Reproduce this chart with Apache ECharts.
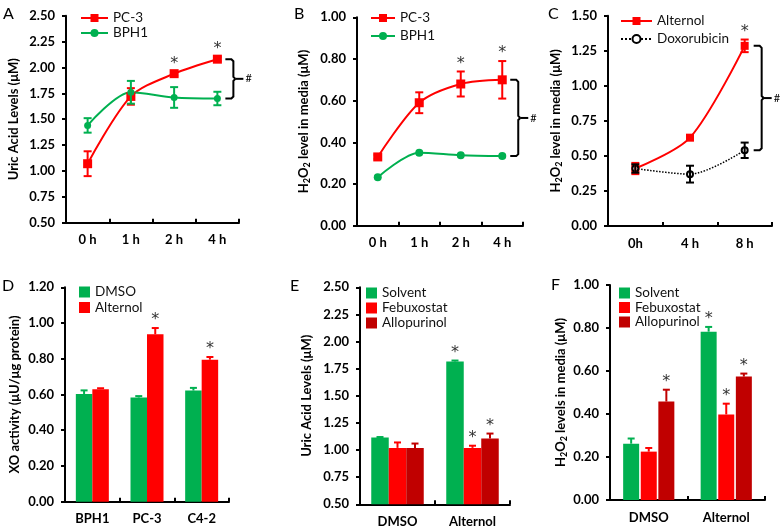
<!DOCTYPE html>
<html><head><meta charset="utf-8">
<script src="https://cdn.jsdelivr.net/npm/echarts@6/dist/echarts.min.js"></script>
<style>html,body{margin:0;padding:0;background:#fff}#c{width:780px;height:530px}</style>
</head><body><div id="c"></div><script>
// ---------------- DATA ----------------
// Panel A
const catsA = ['0 h', '1 h', '2 h', '4 h'];
const ticksA = [0.50, 0.75, 1.00, 1.25, 1.50, 1.75, 2.00, 2.25, 2.50];
const pc3A = [1.07, 1.72, 1.94, 2.08];
const pc3AErr = [0.12, 0.08, 0.02, 0.02];
const pc3ASig = [0, 0, 1, 1];
const bph1A = [1.44, 1.76, 1.71, 1.70];
const bph1AErr = [0.07, 0.11, 0.10, 0.065];
// Panel B
const catsB = ['0 h', '1 h', '2 h', '4 h'];
const ticksB = [0.00, 0.20, 0.40, 0.60, 0.80, 1.00];
const pc3B = [0.33, 0.59, 0.68, 0.70];
const pc3BErr = [0.01, 0.05, 0.06, 0.09];
const pc3BSig = [0, 0, 1, 1];
const bph1B = [0.232, 0.35, 0.338, 0.334];
const bph1BErr = [0.006, 0.008, 0.006, 0.006];
// Panel C
const catsC = ['0h', '4 h', '8 h'];
const ticksC = [0.00, 0.25, 0.50, 0.75, 1.00, 1.25, 1.50];
const altC = [0.41, 0.63, 1.285];
const altCErr = [0.04, 0.01, 0.045];
const altCSig = [0, 0, 1];
const doxC = [0.41, 0.37, 0.54];
const doxCErr = [0.03, 0.06, 0.055];
// Panel D
const catsD = ['BPH1', 'PC-3', 'C4-2'];
const ticksD = [0.00, 0.20, 0.40, 0.60, 0.80, 1.00, 1.20];
const dmsoD = [0.603, 0.583, 0.622];
const dmsoDErr = [0.02, 0.008, 0.015];
const altD = [0.63, 0.937, 0.795];
const altDErr = [0.005, 0.035, 0.015];
const altDSig = [0, 1, 1];
// Panel E
const catsE = ['DMSO', 'Alternol'];
const ticksE = [0.50, 0.75, 1.00, 1.25, 1.50, 1.75, 2.00, 2.25, 2.50];
const solvE = [1.115, 1.815];
const solvEErr = [0.005, 0.01];
const solvESig = [0, 1];
const febE = [1.02, 1.02];
const febEErr = [0.05, 0.02];
const febESig = [0, 1];
const alloE = [1.02, 1.107];
const alloEErr = [0.04, 0.045];
const alloESig = [0, 1];
// Panel F
const catsF = ['DMSO', 'Alternol'];
const ticksF = [0.00, 0.20, 0.40, 0.60, 0.80, 1.00];
const solvF = [0.262, 0.783];
const solvFErr = [0.024, 0.022];
const solvFSig = [0, 1];
const febF = [0.225, 0.398];
const febFErr = [0.017, 0.05];
const febFSig = [0, 1];
const alloF = [0.458, 0.574];
const alloFErr = [0.055, 0.014];
const alloFSig = [1, 1];

// ---------------- STYLE / HELPERS ----------------
const FONT = 'Lato, "Open Sans", sans-serif';
const GREEN = '#00b050', RED = '#ff0000', DARK = '#c00000';

const grids = [
  {left: 66, top: 15.7, width: 173, height: 207},
  {left: 357, top: 17.3, width: 166, height: 208.4},
  {left: 608, top: 15.7, width: 164, height: 210.3},
  {left: 65, top: 287.3, width: 164, height: 214.4},
  {left: 360, top: 287.3, width: 150, height: 217},
  {left: 610, top: 285, width: 155, height: 215}
].map(g => Object.assign({containLabel: false, outerBoundsMode: 'none'}, g));

const axisLineStyle = {show: true, lineStyle: {color: '#000', width: 2}};

function xAx(gi, cats) {
  return {
    type: 'category', gridIndex: gi, data: cats, boundaryGap: true,
    axisLine: axisLineStyle,
    axisTick: {show: true, inside: true, length: 4, lineStyle: {color: '#000', width: 2}},
    axisLabel: {color: '#000', fontWeight: 'bold', fontSize: 13, fontFamily: FONT, margin: 11},
    splitLine: {show: false}
  };
}
function yAx(gi, ticks, name, gap) {
  return {
    type: 'value', gridIndex: gi, min: ticks[0], max: ticks[ticks.length - 1],
    interval: +(ticks[1] - ticks[0]).toFixed(4),
    name: name, nameLocation: 'middle', nameGap: gap,
    nameTextStyle: {
      color: '#000', fontWeight: 'bold', fontSize: 13, fontFamily: FONT,
      rich: {s: {fontSize: 9, fontWeight: 'bold', fontFamily: FONT, color: '#000', padding: [7, 0, 0, 0]}}
    },
    axisLine: axisLineStyle,
    axisTick: {show: true, inside: false, length: 4, lineStyle: {color: '#000', width: 2}},
    axisLabel: {color: '#000', fontWeight: 'bold', fontSize: 13, fontFamily: FONT, margin: 11,
      formatter: v => v.toFixed(2)},
    splitLine: {show: false}
  };
}

function lineSeries(gi, name, data, color, symbol, size, extra) {
  return Object.assign({
    type: 'line', name: name, xAxisIndex: gi, yAxisIndex: gi, data: data,
    smooth: 0.3, symbol: symbol, symbolSize: size,
    lineStyle: {color: color, width: 2}, itemStyle: {color: color}, z: 3
  }, extra || {});
}
function barSeries(gi, name, data, color, bw, gap) {
  return {type: 'bar', name: name, xAxisIndex: gi, yAxisIndex: gi, data: data,
    barWidth: bw, barGap: gap, itemStyle: {color: color}, z: 2};
}

function errSeries(gi, means, errs, sigs, color, opts) {
  const data = means.map((m, i) => [i, opts.upper ? m : m - errs[i], m + errs[i], sigs ? sigs[i] : 0]);
  return {
    type: 'custom', xAxisIndex: gi, yAxisIndex: gi, data: data, z: 5, silent: true,
    encode: {x: 0, y: [1, 2]},
    renderItem: function (params, api) {
      const i = api.value(0);
      const lo = api.coord([i, api.value(1)]);
      const hi = api.coord([i, api.value(2)]);
      const x = lo[0] + (opts.dx || 0);
      const cw = opts.cap / 2;
      const st = {stroke: color, lineWidth: opts.lw || 2};
      const ch = [
        {type: 'line', shape: {x1: x, y1: lo[1], x2: x, y2: hi[1]}, style: st},
        {type: 'line', shape: {x1: x - cw, y1: hi[1], x2: x + cw, y2: hi[1]}, style: st}
      ];
      if (!opts.upper) ch.push({type: 'line', shape: {x1: x - cw, y1: lo[1], x2: x + cw, y2: lo[1]}, style: st});
      if (api.value(3)) ch.push({type: 'text', style: {text: '*', x: x, y: hi[1] - 8,
        align: 'center', verticalAlign: 'middle', fill: '#333', fontSize: 16, fontFamily: 'DejaVu Sans'}});
      return {type: 'group', children: ch};
    }
  };
}

function bracketSeries(gi, cat, top, bot, dx) {
  return {
    type: 'custom', xAxisIndex: gi, yAxisIndex: gi, data: [[cat, top, bot]], z: 5, silent: true,
    encode: {x: 0, y: [1, 2]},
    renderItem: function (params, api) {
      const a = api.coord([api.value(0), api.value(1)]);
      const b = api.coord([api.value(0), api.value(2)]);
      const x = a[0] + dx, y1 = a[1], y2 = b[1], ym = (y1 + y2) / 2;
      const st = {stroke: '#000', lineWidth: 2, fill: 'none'};
      return {type: 'group', children: [
        {type: 'polyline', shape: {points: [[x - 8, y1], [x - 2, y1], [x, y1 + 2], [x, ym - 2], [x + 2, ym]]}, style: st},
        {type: 'polyline', shape: {points: [[x - 8, y2], [x - 2, y2], [x, y2 - 2], [x, ym + 2], [x + 2, ym]]}, style: st},
        {type: 'line', shape: {x1: x + 2, y1: ym, x2: x + 10, y2: ym}, style: st},
        {type: 'text', style: {text: '#', x: x + 12, y: ym, align: 'left', verticalAlign: 'middle',
          fill: '#000', fontSize: 11, fontFamily: FONT}}
      ]};
    }
  };
}

function legend(left, top, names, gap, icon, iw, ih) {
  const l = {
    left: left, top: top, orient: 'vertical', padding: 0, itemGap: gap, itemWidth: iw, itemHeight: ih,
    data: names, selectedMode: false, formatter: n => n.split(':')[1],
    textStyle: {color: '#111', fontSize: 13.5, fontFamily: FONT}
  };
  if (icon) l.icon = icon;
  return l;
}

const H2O2 = 'H{s|2}O{s|2}';

const option = {
  animation: false,
  backgroundColor: '#fff',
  grid: grids,
  xAxis: [xAx(0, catsA), xAx(1, catsB), xAx(2, catsC), xAx(3, catsD), xAx(4, catsE), xAx(5, catsF)],
  yAxis: [
    yAx(0, ticksA, 'Uric Acid Levels (μM)', 46),
    yAx(1, ticksB, H2O2 + ' level in media (μM)', 45),
    yAx(2, ticksC, H2O2 + ' level in media (μM)', 44),
    yAx(3, ticksD, 'XO activity (μU/μg protein)', 44),
    yAx(4, ticksE, 'Uric Acid Levels (μM)', 47),
    yAx(5, ticksF, H2O2 + ' levels in media (μM)', 41)
  ],
  legend: [
    legend(80, 11, ['A:PC-3', 'A:BPH1'], 1, null, 27, 10),
    legend(370, 11, ['B:PC-3', 'B:BPH1'], 4, null, 24, 10),
    legend(620, 14, ['C:Alternol', 'C:Doxorubicin'], 4, null, 31, 10),
    legend(79, 285, ['D:DMSO', 'D:Alternol'], 1.5, 'rect', 11, 11),
    legend(366, 286, ['E:Solvent', 'E:Febuxostat', 'E:Allopurinol'], 1, 'rect', 11, 11),
    legend(619, 286, ['F:Solvent', 'F:Febuxostat', 'F:Allopurinol'], 0.5, 'rect', 11, 11)
  ],
  graphic: [
    {type: 'text', left: 3, top: 6, style: {text: 'A', fontSize: 16, fontFamily: FONT, fill: '#000'}},
    {type: 'text', left: 294, top: 6, style: {text: 'B', fontSize: 16, fontFamily: FONT, fill: '#000'}},
    {type: 'text', left: 548, top: 6, style: {text: 'C', fontSize: 16, fontFamily: FONT, fill: '#000'}},
    {type: 'text', left: 2, top: 278, style: {text: 'D', fontSize: 16, fontFamily: FONT, fill: '#000'}},
    {type: 'text', left: 290, top: 278, style: {text: 'E', fontSize: 16, fontFamily: FONT, fill: '#000'}},
    {type: 'text', left: 551, top: 277, style: {text: 'F', fontSize: 16, fontFamily: FONT, fill: '#000'}}
  ],
  series: [
    // A
    lineSeries(0, 'A:PC-3', pc3A, RED, 'rect', 9),
    lineSeries(0, 'A:BPH1', bph1A, GREEN, 'circle', 7),
    errSeries(0, pc3A, pc3AErr, pc3ASig, RED, {cap: 8}),
    errSeries(0, bph1A, bph1AErr, null, GREEN, {cap: 8}),
    bracketSeries(0, 3, pc3A[3], bph1A[3], 16),
    // B
    lineSeries(1, 'B:PC-3', pc3B, RED, 'rect', 9),
    lineSeries(1, 'B:BPH1', bph1B, GREEN, 'circle', 8),
    errSeries(1, pc3B, pc3BErr, pc3BSig, RED, {cap: 8}),
    errSeries(1, bph1B, bph1BErr, null, GREEN, {cap: 6}),
    bracketSeries(1, 3, pc3B[3], bph1B[3], 16),
    // C
    lineSeries(2, 'C:Alternol', altC, RED, 'rect', 8),
    lineSeries(2, 'C:Doxorubicin', doxC, '#000', 'emptyCircle', 6,
      {lineStyle: {color: '#000', width: 1.5, type: 'dotted'}, itemStyle: {color: '#000', borderColor: '#000', borderWidth: 1.5}}),
    errSeries(2, altC, altCErr, altCSig, RED, {cap: 8}),
    errSeries(2, doxC, doxCErr, null, '#000', {cap: 8}),
    bracketSeries(2, 2, altC[2], doxC[2], 17),
    // D
    barSeries(3, 'D:DMSO', dmsoD, GREEN, 16.5, '0%'),
    barSeries(3, 'D:Alternol', altD, RED, 16.5, '0%'),
    errSeries(3, dmsoD, dmsoDErr, null, GREEN, {cap: 7, upper: true, dx: -8.25}),
    errSeries(3, altD, altDErr, altDSig, RED, {cap: 7, upper: true, dx: 8.25}),
    // E
    barSeries(4, 'E:Solvent', solvE, GREEN, 17.5, '0%'),
    barSeries(4, 'E:Febuxostat', febE, RED, 17.5, '0%'),
    barSeries(4, 'E:Allopurinol', alloE, DARK, 17.5, '0%'),
    errSeries(4, solvE, solvEErr, solvESig, GREEN, {cap: 7, upper: true, dx: -17.5}),
    errSeries(4, febE, febEErr, febESig, RED, {cap: 7, upper: true, dx: 0}),
    errSeries(4, alloE, alloEErr, alloESig, DARK, {cap: 7, upper: true, dx: 17.5}),
    // F
    barSeries(5, 'F:Solvent', solvF, GREEN, 16, '10%'),
    barSeries(5, 'F:Febuxostat', febF, RED, 16, '10%'),
    barSeries(5, 'F:Allopurinol', alloF, DARK, 16, '10%'),
    errSeries(5, solvF, solvFErr, solvFSig, GREEN, {cap: 7, upper: true, dx: -17.6}),
    errSeries(5, febF, febFErr, febFSig, RED, {cap: 7, upper: true, dx: 0}),
    errSeries(5, alloF, alloFErr, alloFSig, DARK, {cap: 7, upper: true, dx: 17.6})
  ]
};

const chart = echarts.init(document.getElementById('c'), null, {renderer: 'canvas'});
chart.setOption(option);
</script></body></html>
